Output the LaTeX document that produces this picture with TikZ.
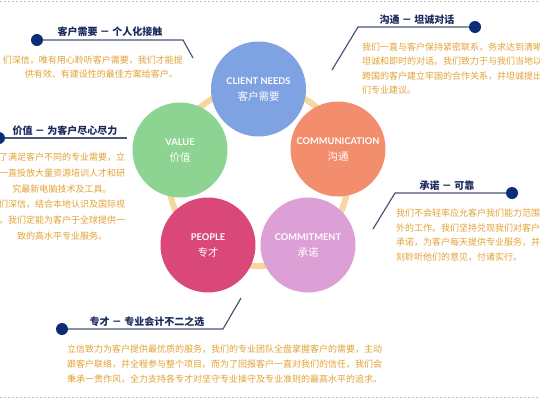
\documentclass[tikz,border=0pt]{standalone}
\usepackage{fontspec}
\newfontfamily\cjk{Noto Sans CJK SC}
\newfontfamily\lat{Lato}
\definecolor{bodyc}{HTML}{E2A236}
\definecolor{navy}{HTML}{1B2A5E}
\definecolor{dotc}{HTML}{0C2C78}
\definecolor{linec}{HTML}{4C5675}
\definecolor{ringc}{HTML}{F6D7A0}
\definecolor{cblue}{HTML}{7EA2E2}
\definecolor{corange}{HTML}{F28D6E}
\definecolor{clilac}{HTML}{DCA0D6}
\definecolor{cpink}{HTML}{D94878}
\definecolor{cgreen}{HTML}{8DD392}
\tikzset{
  body/.style={font=\cjk\fontsize{9}{11}\selectfont, text=bodyc, inner sep=0pt},
  ttl/.style={font=\cjk\bfseries\fontsize{10}{12}\selectfont, text=navy, inner sep=0pt},
  dotn/.style={circle, fill=dotc, minimum size=12pt, inner sep=0pt},
  cline/.style={draw=linec, line width=1.2pt},
  circ/.style={circle, minimum size=95pt, inner sep=0pt},
  en/.style={font=\lat\bfseries\fontsize{9.3}{11}\selectfont, text=white, inner sep=0pt},
  zh/.style={font=\cjk\fontsize{10.5}{12}\selectfont, text=white, inner sep=0pt},
  border/.style={draw=black!25, line width=0.6pt, dash pattern=on 2pt off 2pt}
}
\begin{document}
\begin{tikzpicture}[x=1pt, y=-1pt]
\useasboundingbox (0,0) rectangle (540,400);
\clip (0,0) rectangle (540,400);
\fill[white] (0,0) rectangle (540,400);
\draw[border] (0,1.5) -- (540,1.5);
\draw[border] (0,397.5) -- (540,397.5);
% ring
\node[circle, draw=ringc, line width=6pt, minimum size=180pt, inner sep=0pt] (ring) at (258.5,176) {};
% circles
\node[circ, fill=cblue] (cn) at (258.5,89) {};
\node[circ, fill=corange] (cm) at (338,149) {};
\node[circ, fill=clilac] (ct) at (308,245) {};
\node[circ, fill=cpink] (pp) at (208,245) {};
\node[circ, fill=cgreen] (vl) at (180,150) {};
\node[en] (cn-en) at ([yshift=7.5pt]cn.center) {CLIENT NEEDS};
\node[zh] (cn-zh) at ([yshift=-7.5pt]cn.center) {客户需要};
\node[en] (cm-en) at ([yshift=7.5pt]cm.center) {COMMUNICATION};
\node[zh] (cm-zh) at ([yshift=-7.5pt]cm.center) {沟通};
\node[en] (ct-en) at ([yshift=7.5pt]ct.center) {COMMITMENT};
\node[zh] (ct-zh) at ([yshift=-7.5pt]ct.center) {承诺};
\node[en] (pp-en) at ([yshift=7.5pt]pp.center) {PEOPLE};
\node[zh] (pp-zh) at ([yshift=-7.5pt]pp.center) {专才};
\node[en] (vl-en) at ([yshift=7.5pt]vl.center) {VALUE};
\node[zh] (vl-zh) at ([yshift=-7.5pt]vl.center) {价值};
% callout 1: client needs
\node[dotn] (d1) at (37,40) {};
\coordinate (k1) at (183,40);
\coordinate (e1) at (193,58);
\draw[cline] (d1) -- (k1) -- (e1);
\node[ttl] (t1) at (110,32) {客户需要 － 个人化接触};
\node[body, anchor=east] (b1a) at (183,60) {们深信，唯有用心聆听客户需要，我们才能提};
\node[body, anchor=east] (b1b) at (178,74) {供有效、有建设性的最佳方案给客户。};
% callout 2: communication
\node[dotn] (d2) at (475,27) {};
\coordinate (k2) at (358,27);
\coordinate (e2) at (332,70);
\draw[cline] (d2) -- (k2) -- (e2);
\node[ttl] (t2) at (417,20) {沟通 － 坦诚对话};
\foreach \t [count=\i] in {我们一直与客户保持紧密联系，务求达到清晰,坦诚和即时的对话。我们致力于与我们当地以,跨国的客户建立牢固的合作关系，并坦诚提出,们专业建议。}
  \node[body, anchor=west] (b2-\i) at (362,{47+14.5*(\i-1)}) {\t};
% callout 3: value
\node[dotn] (d3) at (-1,138) {};
\coordinate (k3) at (127,138);
\draw[cline] (d3) -- (k3);
\node[ttl] (t3) at (65,131) {价值 － 为客户尽心尽力};
\foreach \t [count=\i] in {了满足客户不同的专业需要，立,一直投放大量资源培训人才和研,究最新电脑技术及工具。,们深信，结合本地认识及国际视,，我们定能为客户于全球提供一,致的高水平专业服务。}
  \node[body] (b3-\i) at (62,{157+15.8*(\i-1)}) {\t};
% callout 4: commitment
\node[dotn] (d4) at (512,193) {};
\coordinate (k4) at (395,193);
\coordinate (e4) at (373,229);
\draw[cline] (d4) -- (k4) -- (e4);
\node[ttl] (t4) at (447,186) {承诺 － 可靠};
\foreach \t [count=\i] in {我们不会轻率应允客户我们能力范围,外的工作。我们坚持兑现我们对客户,承诺，为客户每天提供专业服务，并,刻聆听他们的意见，付诸实行。}
  \node[body, anchor=west] (b4-\i) at (396,{213+14.7*(\i-1)}) {\t};
% callout 5: people
\node[dotn] (d5) at (62,329) {};
\coordinate (k5) at (223,329);
\coordinate (e5) at (241,298);
\draw[cline] (d5) -- (k5) -- (e5);
\node[ttl] (t5) at (147,322) {专才 － 专业会计不二之选};
\foreach \t [count=\i] in {立信致力为客户提供最优质的服务，我们的专业团队全盘掌握客户的需要，主动,跟客户联络，并全程参与整个项目。而为了回报客户一直对我们的信任，我们会,秉承一贯作风，全力支持各专才对坚守专业操守及专业准则的最高水平的追求。}
  \node[body, anchor=west] (b5-\i) at (67,{349+15*(\i-1)}) {\t};
\end{tikzpicture}
\end{document}
